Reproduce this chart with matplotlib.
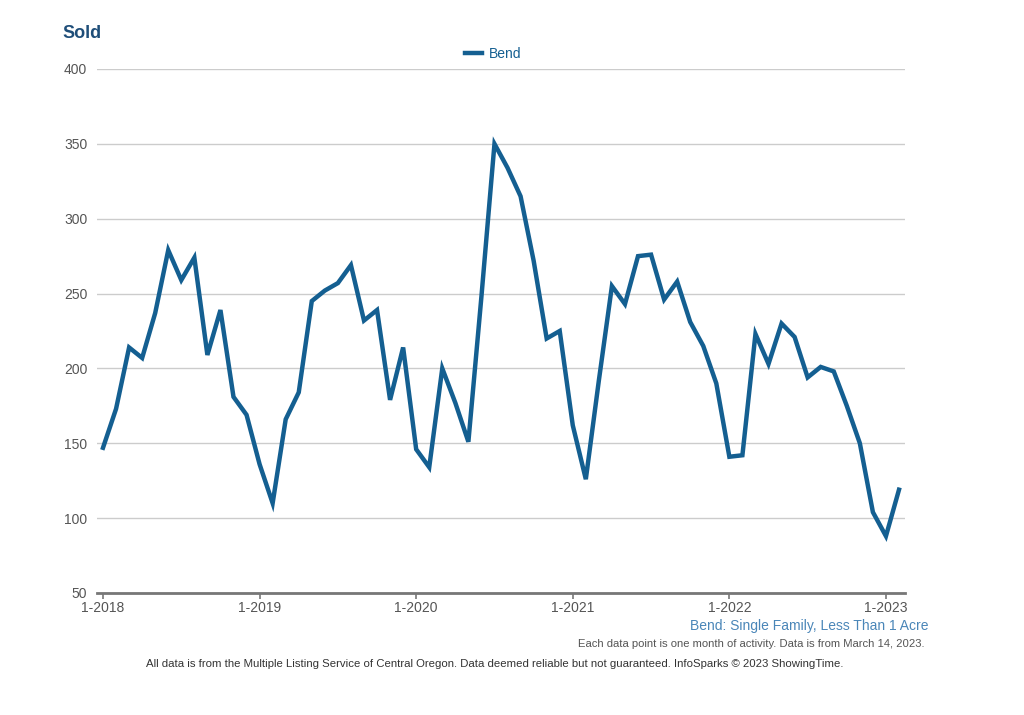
import numpy as np
import matplotlib
matplotlib.use('Agg')
import matplotlib.pyplot as plt

plt.rcParams['font.family'] = ['Liberation Sans', 'DejaVu Sans']

# Bend monthly sold, Jan 2018 .. Feb 2023
sold = [147, 173, 214, 207, 237, 279, 259, 274, 209, 239, 181, 169,
        136, 110, 166, 184, 245, 252, 257, 269, 232, 239, 179, 214,
        146, 134, 200, 177, 151, 248, 350, 334, 315, 272, 220, 225,
        162, 126, 192, 255, 243, 275, 276, 246, 258, 231, 215, 190,
        141, 142, 223, 203, 230, 221, 194, 201, 198, 175, 150, 104,
        88, 119]
tick_labels = ['1-2018', '1-2019', '1-2020', '1-2021', '1-2022', '1-2023']
y_ticks = [50, 100, 150, 200, 250, 300, 350, 400]

BLUE = '#145f91'
fig = plt.figure(figsize=(10.24, 7.15), dpi=100)
ax = fig.add_axes([97/1024, 1-593/715, (905-97)/1024, (593-69)/715])

x = np.arange(len(sold))
ax.plot(x, sold, color=BLUE, lw=3.2, solid_joinstyle='miter', label='Bend', zorder=3)

ax.set_xlim(-0.46, len(sold) - 1 + 0.46)
ax.set_ylim(50, 400)
ax.set_yticks(y_ticks)
ax.set_xticks(np.arange(0, len(sold), 12))
ax.set_xticklabels(tick_labels)
ax.grid(axis='y', color='#cccccc', lw=1)
ax.set_axisbelow(True)
for s in ['top', 'right', 'left']:
    ax.spines[s].set_visible(False)
ax.spines['bottom'].set_color('#777777')
ax.spines['bottom'].set_linewidth(2)
ax.tick_params(axis='y', length=0, pad=7, labelsize=10, labelcolor='#555555')
ax.tick_params(axis='x', length=4, width=1.2, color='#777777', pad=2, labelsize=10, labelcolor='#555555')

ax.legend(loc='lower center', bbox_to_anchor=(0.49, 1.0), frameon=False, fontsize=10,
          handlelength=1.2, handletextpad=0.5, labelcolor=BLUE, borderaxespad=0.2)

fig.text(62/1024, 1-33/715, 'Sold', fontsize=13, fontweight='bold', color='#1f4e79', va='center')
fig.text(928/1024, 1-626/715, 'Bend: Single Family, Less Than 1 Acre', fontsize=10,
         color='#4a86b8', ha='right', va='center')
fig.text(925/1024, 1-644/715, 'Each data point is one month of activity. Data is from March 14, 2023.',
         fontsize=8.1, color='#555555', ha='right', va='center')
fig.text(495/1024, 1-664/715, 'All data is from the Multiple Listing Service of Central Oregon. '
         'Data deemed reliable but not guaranteed. InfoSparks \u00a9 2023 ShowingTime.',
         fontsize=8.2, color='#333333', ha='center', va='center')

fig.savefig('out.png', dpi=100)
